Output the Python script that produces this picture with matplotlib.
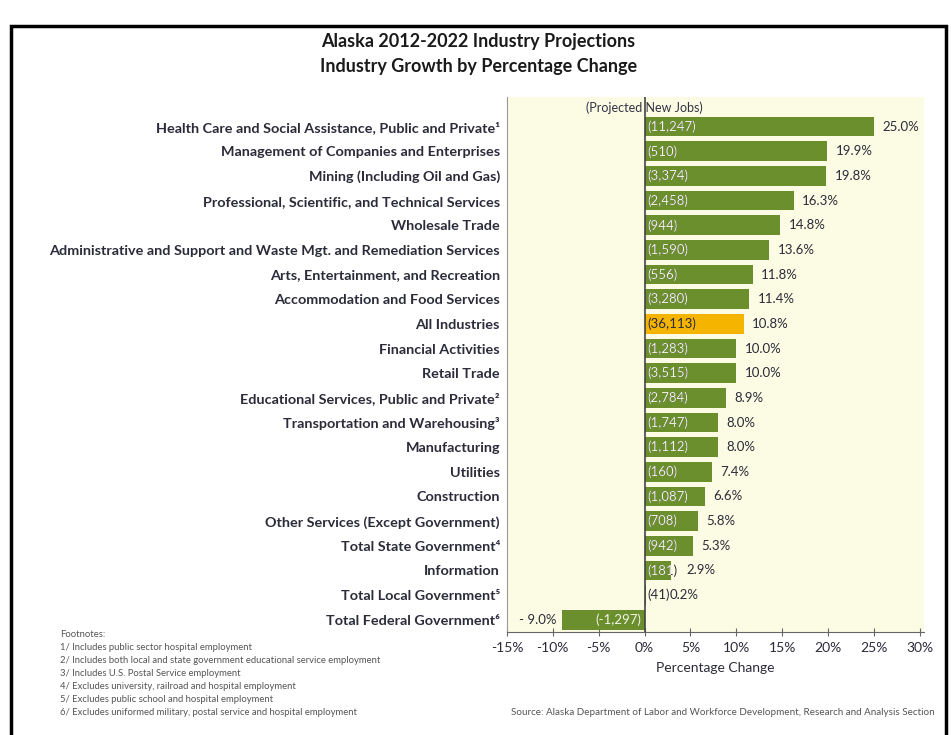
import numpy as np
import matplotlib.pyplot as plt
import matplotlib.patches as mpatches

# chart data
industries = [
    "Health Care and Social Assistance, Public and Private\u00b9",
    "Management of Companies and Enterprises",
    "Mining (Including Oil and Gas)",
    "Professional, Scientific, and Technical Services",
    "Wholesale Trade",
    "Administrative and Support and Waste Mgt. and Remediation Services",
    "Arts, Entertainment, and Recreation",
    "Accommodation and Food Services",
    "All Industries",
    "Financial Activities",
    "Retail Trade",
    "Educational Services, Public and Private\u00b2",
    "Transportation and Warehousing\u00b3",
    "Manufacturing",
    "Utilities",
    "Construction",
    "Other Services (Except Government)",
    "Total State Government\u2074",
    "Information",
    "Total Local Government\u2075",
    "Total Federal Government\u2076",
]
pct_change = [25.0, 19.9, 19.8, 16.3, 14.8, 13.6, 11.8, 11.4, 10.8, 10.0, 10.0,
              8.9, 8.0, 8.0, 7.4, 6.6, 5.8, 5.3, 2.9, 0.2, -9.0]
new_jobs = ["11,247", "510", "3,374", "2,458", "944", "1,590", "556", "3,280",
            "36,113", "1,283", "3,515", "2,784", "1,747", "1,112", "160", "1,087",
            "708", "942", "181", "41", "-1,297"]
x_ticks = [-15, -10, -5, 0, 5, 10, 15, 20, 25, 30]

footnotes = [
    "Footnotes:",
    "1/ Includes public sector hospital employment",
    "2/ Includes both local and state government educational service employment",
    "3/ Includes U.S. Postal Service employment",
    "4/ Excludes university, railroad and hospital employment",
    "5/ Excludes public school and hospital employment",
    "6/ Excludes uniformed military, postal service and hospital employment",
]
source = "Source: Alaska Department of Labor and Workforce Development, Research and Analysis Section"

green = "#6b8f2c"
gold = "#f4b400"
dark = "#2b2b3a"
light = "#f4f4e8"
fam = ["Lato", "DejaVu Sans"]
plt.rcParams['font.family'] = fam

fig = plt.figure(figsize=(9.51, 7.35), dpi=100)
fig.patch.set_facecolor("white")
ax = fig.add_axes([0.533, 0.140, 0.439, 0.728])
ax.set_facecolor("#fcfbe3")

y = np.arange(len(industries))
colors = [gold if name == "All Industries" else green for name in industries]
bars = ax.barh(y, pct_change, height=0.8, color=colors, zorder=2)

ax.set_xlim(-15, 30.5)
ax.set_ylim(20.5, -1.2)
ax.set_xticks(x_ticks)
ax.set_xticklabels([f"{t}%" for t in x_ticks], fontsize=10, color=dark)
ax.set_yticks(y)
ax.set_yticklabels(industries, fontsize=10.4, fontweight="bold", color=dark)
ax.tick_params(axis="y", length=0, pad=5)
ax.tick_params(axis="x", direction="inout", length=6, color="#666666", pad=4)
ax.set_xlabel("Percentage Change", fontsize=10, color=dark, labelpad=6)

for side in ["top", "right"]:
    ax.spines[side].set_visible(False)
ax.spines["left"].set_color("#999999")
ax.spines["bottom"].set_color("#666666")
ax.axvline(0, color="#444444", lw=1.2, zorder=3)

fig.canvas.draw()
renderer = fig.canvas.get_renderer()
inv = ax.transData.inverted()

# labels on bars
fs = 9.5
for i, (bar, v, jobs, c) in enumerate(zip(bars, pct_change, new_jobs, colors)):
    lab = f"({jobs})"
    if v >= 0:
        under = ax.text(0.3, i, lab, va="center", ha="left", fontsize=fs, color=dark, zorder=4)
        if c == green:
            # light text only where it sits on the bar
            t = ax.text(0.3, i, lab, va="center", ha="left", fontsize=fs, color=light,
                        zorder=5, clip_on=True)
            t.set_clip_path(bar)
        end_px = under.get_window_extent(renderer).x1
        lab_end = inv.transform((end_px, 0))[0]
        if v < 1:
            xpos = lab_end
        elif lab_end > v:
            xpos = lab_end + 1.0
        else:
            xpos = v + 0.9
        ax.text(xpos, i, f"{v:.1f}%", va="center", ha="left", fontsize=fs, color=dark, zorder=4)
    else:
        ax.text(-0.4, i, lab, va="center", ha="right", fontsize=fs, color=light, zorder=5)
        ax.text(v - 0.6, i, f"- {abs(v):.1f}%", va="center", ha="right", fontsize=fs, color=dark, zorder=4)

ax.text(0, -0.78, "(Projected New Jobs)", va="center", ha="center", fontsize=9, color="#333344")

# title
fig.text(0.503, 0.943, "Alaska 2012-2022 Industry Projections", ha="center", va="center",
         fontsize=13, fontweight="bold", color="#1a1a1a")
fig.text(0.503, 0.910, "Industry Growth by Percentage Change", ha="center", va="center",
         fontsize=13, fontweight="bold", color="#1a1a1a")

# footnotes and source
for k, line in enumerate(footnotes):
    fig.text(0.063, 0.137 - k * 0.0178, line, ha="left", va="center", fontsize=6.8, color="#555555")
fig.text(0.983, 0.031, source, ha="right", va="center", fontsize=7.1, color="#555555")

# outer black frame
frame = mpatches.Rectangle((0.0118, -0.02), 0.9828, 0.9845, transform=fig.transFigure,
                           fill=False, edgecolor="black", lw=2.5, clip_on=False)
fig.patches.append(frame)

fig.savefig("out.png", dpi=100)
